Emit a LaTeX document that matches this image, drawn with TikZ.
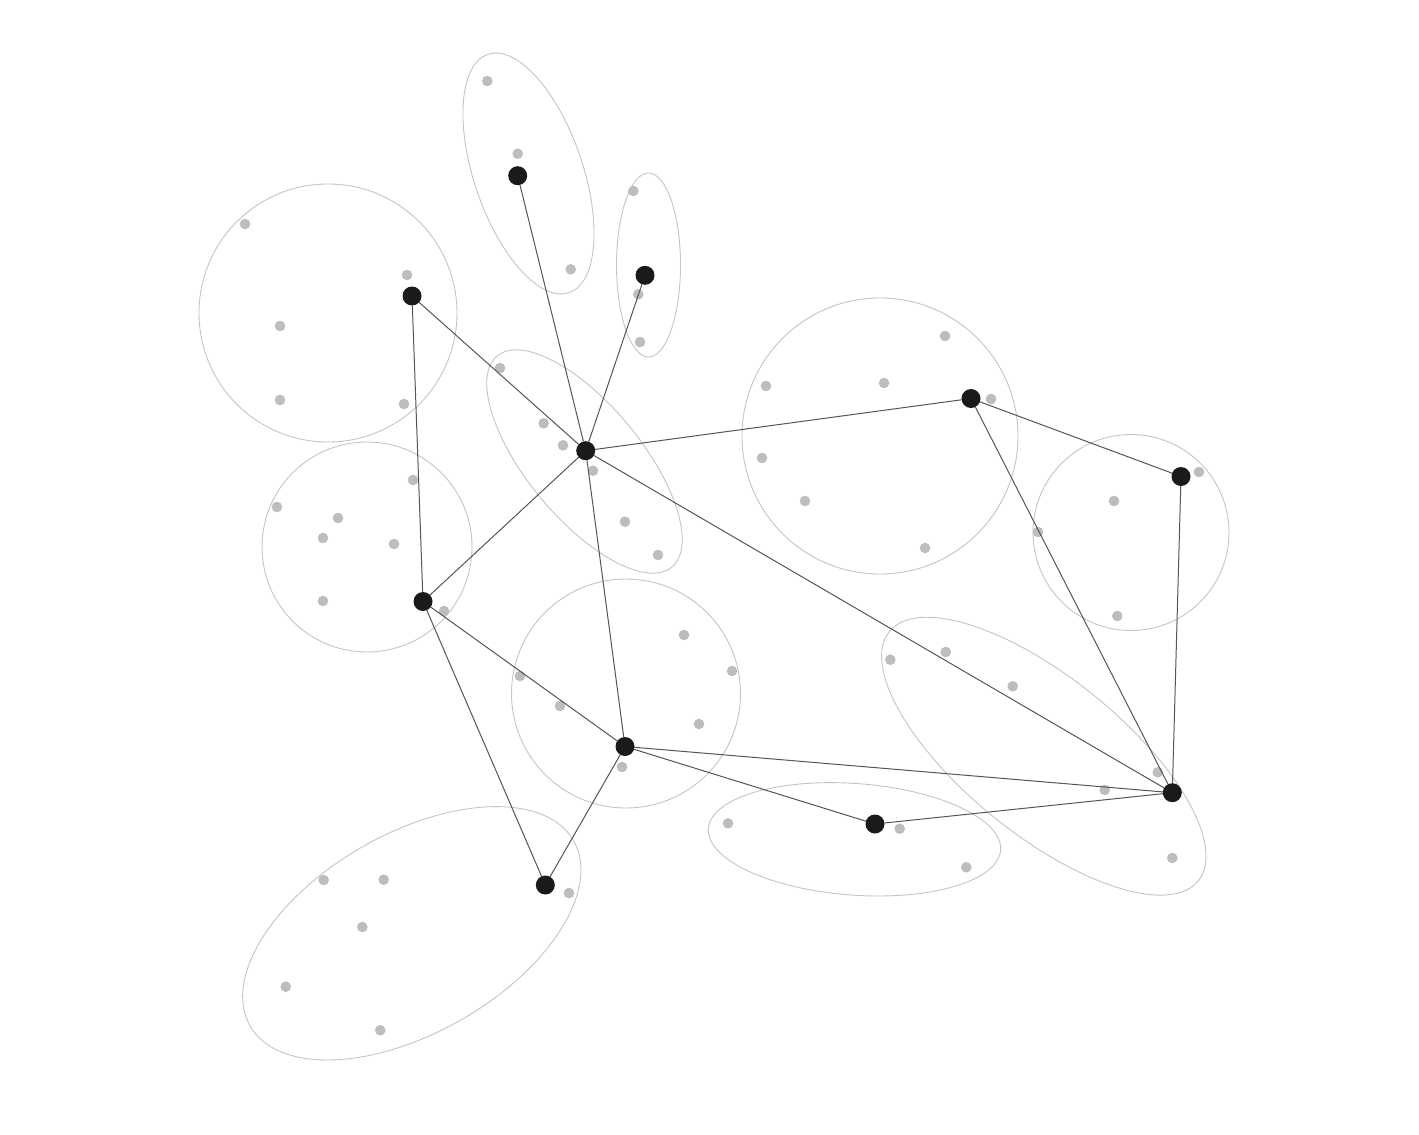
\documentclass[tikz,border=0pt]{standalone}
\usetikzlibrary{shapes.geometric}
\definecolor{hullc}{HTML}{C4C4C4}
\definecolor{dotc}{HTML}{BDBDBD}
\definecolor{edgec}{HTML}{555555}
\definecolor{hubc}{HTML}{1A1A1A}
\tikzset{
  hull/.style={draw=hullc, line width=0.9pt},
  member/.style={fill=dotc},
  hub/.style={circle, fill=hubc, minimum size=19pt, inner sep=0pt, outer sep=0pt},
  link/.style={draw=edgec, line width=1pt},
}
\begin{document}
\begin{tikzpicture}[x=1pt,y=-1pt]
\useasboundingbox (0,0) rectangle (1419,1135);
% clusters
\draw[hull,shift={(528.5,173.5)},rotate=-71.2] (0,0) ellipse [x radius=125.9pt, y radius=54.4pt];
\draw[hull] (648.5,265) ellipse [x radius=32pt, y radius=92pt];
\draw[hull] (328,313) circle [radius=129pt];
\draw[hull,shift={(584.5,461.5)},rotate=-50.4] (0,0) ellipse [x radius=137pt, y radius=57pt];
\draw[hull] (880,436) circle [radius=138pt];
\draw[hull] (1131,532.5) circle [radius=98pt];
\draw[hull] (367,547) circle [radius=105pt];
\draw[hull] (626,693.5) circle [radius=114.5pt];
\draw[hull,shift={(1043.8,756.2)},rotate=-38.9] (0,0) ellipse [x radius=198.5pt, y radius=78.8pt];
\draw[hull,shift={(854.5,839.3)},rotate=-4.2] (0,0) ellipse [x radius=146.5pt, y radius=55.8pt];
\draw[hull,shift={(411.8,933.3)},rotate=29.8] (0,0) ellipse [x radius=186.4pt, y radius=99.6pt];
% member points
\foreach \p in {(487.3,81),(517.7,153.7),(570.7,269.3),
  (633.3,191),(638.3,294.3),(640,342),
  (245,224),(407,275),(280,326),(280,400),(404,404),
  (500,368),(543.7,423.3),(563,445.3),(593,470.7),(625,521.7),(658,555),
  (766,386),(884,383),(945,336),(991,399),(762,458),(805,501),(925,548),
  (1199,472),(1114,501),(1038,532),(1117.3,616),
  (277,507),(338,518),(323,538),(394,544),(413,480),(323,601),(444,611),
  (520,676),(560,706),(684,635),(732,671),(699,724),(622,767),
  (890.3,659.7),(945.7,652),(1012.7,686.3),(1157.7,772.3),(1104.7,790),(1172.3,858),
  (728,823.3),(899.7,828.7),(966.3,867.3),
  (323.7,880),(383.7,879.7),(362.3,927),(285.7,986.7),(380.3,1030.3),(569,893)}
  \fill[member] \p circle [radius=5.3pt];
% hubs
\node[hub] (A) at (517.7,175.7) {};
\node[hub] (B) at (645,275.3) {};
\node[hub] (C) at (412,296) {};
\node[hub] (D) at (585.7,450.7) {};
\node[hub] (E) at (971,398.5) {};
\node[hub] (F) at (1181,476.5) {};
\node[hub] (G) at (423,601.5) {};
\node[hub] (H) at (625,746.5) {};
\node[hub] (I) at (875,824) {};
\node[hub] (J) at (1172.3,792.7) {};
\node[hub] (K) at (545.3,885) {};
% links
\draw[link] (A) -- (D);
\draw[link] (B) -- (D);
\draw[link] (C) -- (D);
\draw[link] (C) -- (G);
\draw[link] (D) -- (E);
\draw[link] (D) -- (H);
\draw[link] (D) -- (J);
\draw[link] (D) -- (G);
\draw[link] (E) -- (F);
\draw[link] (E) -- (J);
\draw[link] (F) -- (J);
\draw[link] (G) -- (H);
\draw[link] (G) -- (K);
\draw[link] (H) -- (K);
\draw[link] (H) -- (J);
\draw[link] (H) -- (I);
\draw[link] (I) -- (J);
\end{tikzpicture}
\end{document}
